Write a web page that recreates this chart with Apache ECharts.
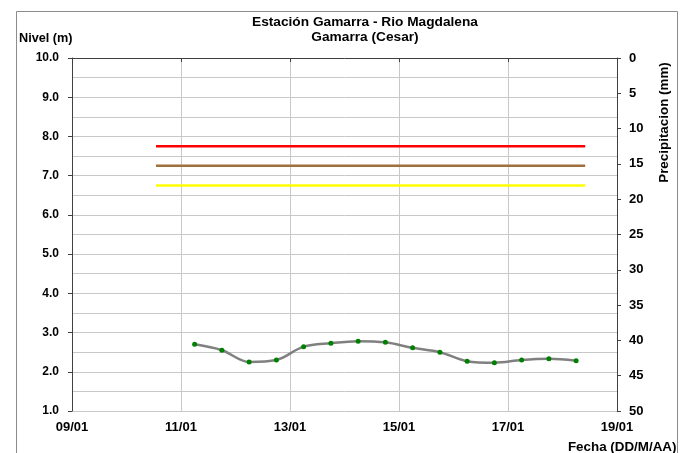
<!DOCTYPE html>
<html>
<head>
<meta charset="utf-8">
<script src="https://cdn.jsdelivr.net/npm/echarts@6/dist/echarts.min.js"></script>
<style>
  html, body { margin: 0; padding: 0; background: #fff; }
  #chart { width: 692px; height: 453px; }
</style>
</head>
<body>
<div id="chart"></div>
<script>
// lecturas de nivel (DD/MM HH:mm)
const fechas = ['11/01 06:00', '11/01 18:00', '12/01 06:00', '12/01 18:00', '13/01 06:00',
                '13/01 18:00', '14/01 06:00', '14/01 18:00', '15/01 06:00', '15/01 18:00',
                '16/01 06:00', '16/01 18:00', '17/01 06:00', '17/01 18:00', '18/01 06:00']
const nivel = [2.70, 2.55, 2.25, 2.30, 2.64, 2.73, 2.78, 2.75, 2.61, 2.50, 2.27, 2.23, 2.30, 2.33, 2.28]

// umbrales de alerta
const alertaInicio = '10/01 13:00'
const alertaFin = '18/01 10:00'
const alertaRoja = 7.75
const alertaNaranja = 7.25
const alertaAmarilla = 6.75

const ticksFecha = [9, 11, 13, 15, 17, 19]

// dia del mes con fraccion de hora
function aDia(s) {
    const [f, h] = s.split(' ')
    const [hh, mm] = h.split(':').map(Number)
    return Number(f.split('/')[0]) + (hh + mm / 60) / 24
}

const pad = n => (n < 10 ? '0' : '') + n
const fuente = 'Liberation Sans, Arial, sans-serif'

function umbral(valor, color) {
    return {
        type: 'line',
        yAxisIndex: 0,
        symbol: 'none',
        silent: true,
        lineStyle: { color: color, width: 2.5 },
        data: [[aDia(alertaInicio), valor], [aDia(alertaFin), valor]]
    }
}

const myEcharts = echarts.init(document.getElementById('chart'))
const option = {
    animation: false,
    backgroundColor: '#fff',
    textStyle: { fontFamily: fuente },
    title: {
        text: 'Estación Gamarra - Rio Magdalena\nGamarra (Cesar)',
        left: 360,
        textAlign: 'center',
        top: 10,
        textStyle: { fontSize: 13.7, fontWeight: 'bold', color: '#000', lineHeight: 14.5, fontFamily: fuente }
    },
    grid: { left: 72, right: 75, top: 58, bottom: 42 },
    xAxis: {
        type: 'value',
        min: ticksFecha[0],
        max: ticksFecha[ticksFecha.length - 1],
        interval: 2,
        axisLine: { lineStyle: { color: '#404040', width: 1 } },
        axisTick: { show: true, length: 4, lineStyle: { color: '#404040' } },
        axisLabel: {
            margin: 10,
            fontSize: 13,
            fontWeight: 'bold',
            color: '#000',
            formatter: v => pad(v) + '/01'
        },
        splitLine: { show: true, lineStyle: { color: '#c8c8c8', width: 1 } }
    },
    yAxis: [
        {
            type: 'value',
            min: 1,
            max: 10,
            interval: 1,
            axisLine: { show: true, lineStyle: { color: '#404040', width: 1 } },
            axisTick: { show: true, length: 4, lineStyle: { color: '#404040' } },
            axisLabel: {
                margin: 13,
                fontSize: 12,
                fontWeight: 'bold',
                color: '#000',
                formatter: v => v.toFixed(1)
            },
            splitLine: { show: true, lineStyle: { color: '#c8c8c8', width: 1 } },
            minorTick: { show: false, splitNumber: 2 },
            minorSplitLine: { show: true, lineStyle: { color: '#c8c8c8', width: 1 } }
        },
        {
            type: 'value',
            min: 0,
            max: 50,
            interval: 5,
            inverse: true,
            position: 'right',
            axisLine: { show: true, lineStyle: { color: '#404040', width: 1 } },
            axisTick: { show: true, length: 4, lineStyle: { color: '#404040' } },
            axisLabel: { margin: 12, fontSize: 13, fontWeight: 'bold', color: '#000' },
            splitLine: { show: false }
        }
    ],
    graphic: [
        {
            type: 'rect',
            shape: { x: 16.5, y: 11.5, width: 661, height: 460 },
            style: { fill: 'none', stroke: '#8c8c8c', lineWidth: 1 },
            silent: true
        },
        {
            type: 'text',
            x: 19,
            y: 38,
            style: { text: 'Nivel (m)', font: 'bold 12.7px ' + fuente, fill: '#000', verticalAlign: 'middle' }
        },
        {
            type: 'text',
            x: 664,
            y: 122.5,
            rotation: Math.PI / 2,
            style: {
                text: 'Precipitacion (mm)',
                font: 'bold 13.4px ' + fuente,
                fill: '#000',
                align: 'center',
                verticalAlign: 'middle'
            }
        },
        {
            type: 'text',
            x: 676.5,
            y: 447,
            style: {
                text: 'Fecha (DD/M/AA)',
                font: 'bold 13.4px ' + fuente,
                fill: '#000',
                align: 'right',
                verticalAlign: 'middle'
            }
        }
    ],
    series: [
        umbral(alertaRoja, '#ff0000'),
        umbral(alertaNaranja, '#a0703c'),
        umbral(alertaAmarilla, '#ffff00'),
        {
            type: 'line',
            yAxisIndex: 0,
            smooth: 0.35,
            symbol: 'circle',
            symbolSize: 5,
            itemStyle: { color: '#008000' },
            lineStyle: { color: '#808080', width: 2.5 },
            data: fechas.map((f, i) => [aDia(f), nivel[i]])
        }
    ]
}
myEcharts.setOption(option)
</script>
</body>
</html>
